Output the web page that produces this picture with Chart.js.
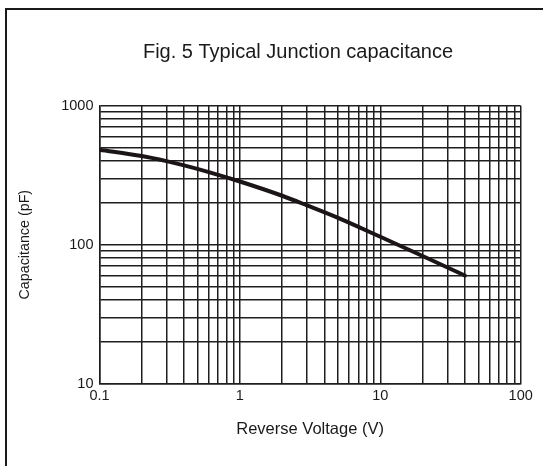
<!DOCTYPE html>
<html>
<head>
<meta charset="utf-8">
<script src="https://cdn.jsdelivr.net/npm/chart.js@4/dist/chart.umd.min.js"></script>
<style>
  html, body { margin: 0; padding: 0; background: #fff; }
  #wrap { width: 543px; height: 466px; position: relative; }
</style>
</head>
<body>
<div id="wrap"><canvas id="c" width="543" height="466"></canvas></div>
<script>
// ---- data ----
const voltage = [0.1, 0.2, 0.3, 0.4, 0.6, 1, 2, 3, 5, 10, 20, 40];
const capacitance = [482, 434, 399, 372, 333, 285, 225, 192, 156, 114, 83, 60];
const xTickLabels = ['0.1', '1', '10', '100'];
const yTickLabels = ['10', '100', '1000'];
const titleText = 'Fig. 5 Typical Junction capacitance';
const xTitle = 'Reverse Voltage (V)';
const yTitle = 'Capacitance (pF)';

const FONT = "'Liberation Sans', Arial, sans-serif";
const PAD_RIGHT = -53;

function decadeGrid(labels) {
  const decades = labels.map(Number);
  const vals = [];
  for (let i = 0; i < decades.length; i++) {
    const d = decades[i];
    if (i === decades.length - 1) { vals.push(d); break; }
    for (let k = 1; k <= 9; k++) vals.push(+(d * k).toPrecision(6));
  }
  return vals;
}

const framePlugin = {
  id: 'frame',
  beforeDraw(chart) {
    const ctx = chart.ctx;
    ctx.save();
    ctx.fillStyle = '#fff';
    ctx.fillRect(0, 0, chart.width, chart.height);
    ctx.strokeStyle = '#1a1a1a';
    ctx.lineWidth = 2;
    ctx.strokeRect(6, 9, 700, 700);
    ctx.restore();
  }
};

new Chart(document.getElementById('c'), {
  type: 'line',
  data: {
    datasets: [{
      data: voltage.map((v, i) => ({ x: v, y: capacitance[i] })),
      borderColor: '#1b1517',
      borderWidth: 4,
      borderCapStyle: 'round',
      pointRadius: 0,
      cubicInterpolationMode: 'monotone',
      fill: false
    }]
  },
  options: {
    responsive: false,
    animation: false,
    devicePixelRatio: 1,
    layout: { padding: { left: 0, top: 0, right: PAD_RIGHT, bottom: 0 } },
    plugins: {
      legend: { display: false },
      tooltip: { enabled: false },
      title: {
        display: true,
        text: titleText,
        color: '#1a1a1a',
        font: { family: FONT, size: 20, weight: 'normal' },
        padding: { top: 40, bottom: 41.7 }
      }
    },
    scales: {
      x: {
        type: 'logarithmic',
        min: 0.1,
        max: 100,
        afterBuildTicks(scale) {
          scale.ticks = decadeGrid(xTickLabels).map(v => ({ value: v }));
        },
        afterFit(scale) { scale.height = 82.3; },
        grid: { color: '#1e1e1e', lineWidth: 1.5, drawTicks: false },
        border: { color: '#1e1e1e', width: 1.5 },
        ticks: {
          autoSkip: false,
          maxRotation: 0,
          padding: 4,
          color: '#1a1a1a',
          font: { family: FONT, size: 14.5 },
          callback(value) {
            const idx = xTickLabels.map(Number).indexOf(+value);
            return idx >= 0 ? xTickLabels[idx] : '';
          }
        },
        title: {
          display: true,
          text: xTitle,
          color: '#1a1a1a',
          font: { family: FONT, size: 16.5 },
          padding: { top: 0, bottom: 27.1 }
        }
      },
      y: {
        type: 'logarithmic',
        min: 10,
        max: 1000,
        afterBuildTicks(scale) {
          scale.ticks = decadeGrid(yTickLabels).map(v => ({ value: v }));
        },
        afterFit(scale) { scale.width = 99.5; },
        grid: { color: '#1e1e1e', lineWidth: 1.5, drawTicks: false },
        border: { color: '#1e1e1e', width: 1.5 },
        ticks: {
          autoSkip: false,
          padding: 6,
          color: '#1a1a1a',
          font: { family: FONT, size: 14.5 },
          callback(value) {
            const idx = yTickLabels.map(Number).indexOf(+value);
            return idx >= 0 ? yTickLabels[idx] : '';
          }
        },
        title: {
          display: true,
          text: yTitle,
          color: '#1a1a1a',
          font: { family: FONT, size: 14.3 },
          padding: { top: 25 - 14.3 * 1.2 / 2, bottom: 0 }
        }
      },
      spacer: {
        type: 'linear',
        position: 'right',
        display: true,
        grid: { display: false, drawOnChartArea: false, drawTicks: false },
        border: { display: false },
        ticks: { display: false },
        title: { display: false },
        afterFit(scale) { scale.width = 543 - PAD_RIGHT - 520.7; }
      }
    }
  },
  plugins: [framePlugin]
});
</script>
</body>
</html>
